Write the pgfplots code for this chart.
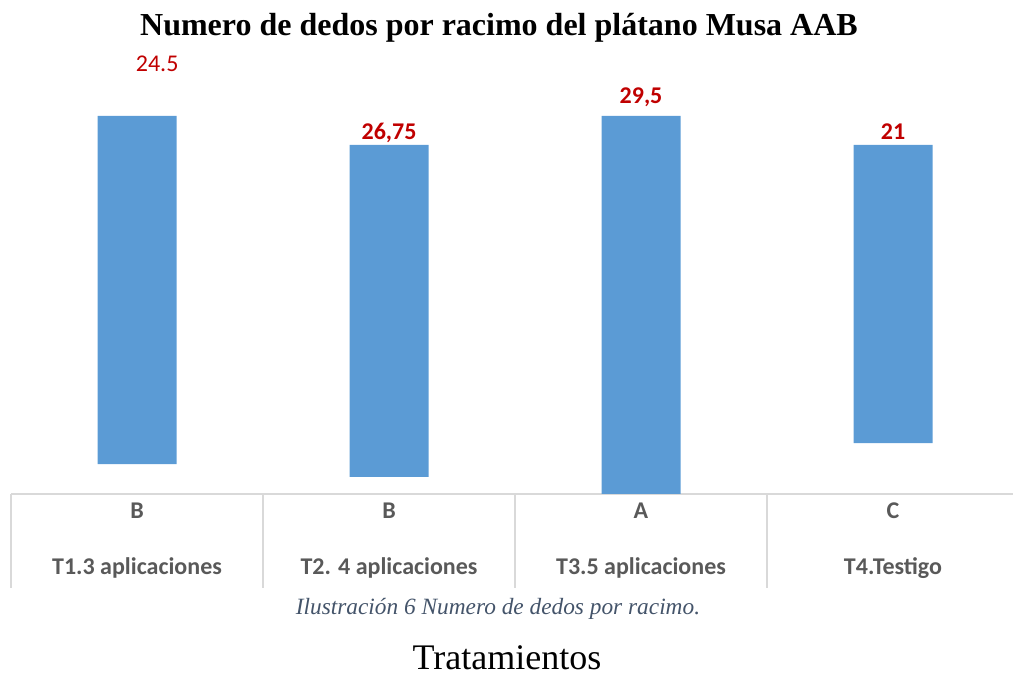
\documentclass[border=0pt]{standalone}
\usepackage{pgfplots}
\pgfplotsset{compat=1.18}
\usepackage{fontspec}
\setmainfont{Liberation Serif}
\newfontfamily\calibri{Carlito}
\definecolor{barblue}{HTML}{5B9BD5}
\definecolor{lblred}{HTML}{C00000}
\definecolor{catgray}{HTML}{595959}
\definecolor{linegray}{HTML}{D9D9D9}
\definecolor{capblue}{HTML}{44546A}
\tikzset{catlbl/.style={anchor=base, text=catgray, font=\calibri\bfseries\fontsize{18}{21}\selectfont},
  redlbl/.style={anchor=base, text=lblred, font=\calibri\bfseries\fontsize{18}{21}\selectfont}}
\begin{document}
\begin{tikzpicture}[x=0.75pt,y=0.75pt]
\path[use as bounding box] (0,0) rectangle (1013,678);
\begin{axis}[
  at={(8.25pt,138pt)}, anchor=south west,
  scale only axis, width=756pt, height=283.5pt,
  xmin=-0.5, xmax=3.5, ymin=0, ymax=29.5,
  axis x line*=bottom, axis y line=none,
  x axis line style={color=linegray, line width=1.1pt},
  xtick={-0.5,0.5,1.5,2.5}, xticklabels={},
  tick align=outside, major tick length=70.5pt,
  xtick style={color=linegray, line width=1.1pt},
  ytick=\empty,
  ybar stacked, bar width=59.25pt,
  clip=false,
]
\addplot[fill=none, draw=none] coordinates {(0,2.34) (1,1.33) (2,0) (3,3.98)};
\addplot[fill=barblue, draw=none] coordinates {(0,27.16) (1,25.91) (2,29.5) (3,23.26)};
% data labels
\node[anchor=base, text=lblred, font=\calibri\fontsize{18}{21}\selectfont] at (axis cs:0.08,32.94) {24.5};
\node[redlbl] at (axis cs:1,27.63) {26,75};
\node[redlbl] at (axis cs:2,30.44) {29,5};
\node[redlbl] at (axis cs:3,27.63) {21};
% category labels
\node[catlbl] at (axis cs:0,-1.95) {B};
\node[catlbl] at (axis cs:1,-1.95) {B};
\node[catlbl] at (axis cs:2,-1.95) {A};
\node[catlbl] at (axis cs:3,-1.95) {C};
\node[catlbl] at (axis cs:0,-6.245) {T1.3 aplicaciones};
\node[catlbl] at (axis cs:1,-6.245) {T2. 4 aplicaciones};
\node[catlbl] at (axis cs:2,-6.245) {T3.5 aplicaciones};
\node[catlbl] at (axis cs:3,-6.245) {T4.Testigo};
\end{axis}
\node[anchor=base, font=\bfseries\fontsize{24}{28}\selectfont] at (499,642) {Numero de dedos por racimo del plátano Musa AAB};
\node[anchor=base, text=capblue, font=\itshape\fontsize{17.5}{20}\selectfont] at (498,64) {Ilustración 6 Numero de dedos por racimo.};
\node[anchor=base, inner sep=0pt, font=\fontsize{27}{30}\selectfont] at (507,9) {Tratamientos};
\end{tikzpicture}
\end{document}
